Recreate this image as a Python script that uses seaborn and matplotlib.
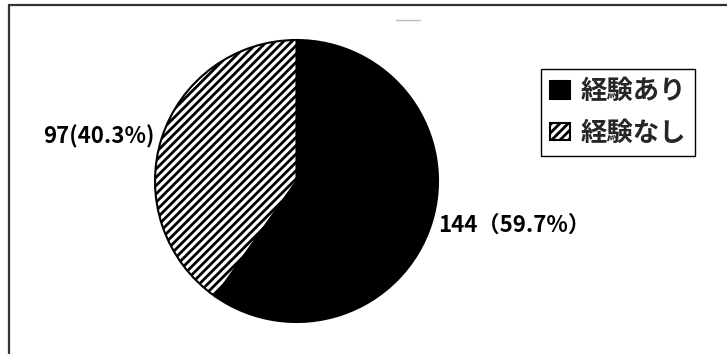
import seaborn as sns
import matplotlib.pyplot as plt
from matplotlib.lines import Line2D

# data
categories = ['経験あり', '経験なし']
counts = [144, 97]
pct_labels = ['144（59.7%）', '97(40.3%)']
face_colors = ['black', 'white']
hatches = ['', '////']

sns.set_theme(style='white')
plt.rcParams['font.family'] = ['Noto Sans CJK JP', 'DejaVu Sans']
plt.rcParams['hatch.linewidth'] = 2.0
plt.rcParams['hatch.color'] = 'black'

fig = plt.figure(figsize=(7.27, 3.54), dpi=100)
W, H = 727, 354

# pie area in pixels: x 155..438, y 40..322 (from top)
ax = fig.add_axes([155 / W, (H - 322) / H, 283 / W, 282 / H])
wedges, texts = ax.pie(
    counts,
    labels=pct_labels,
    colors=face_colors,
    startangle=90,
    counterclock=False,
    labeldistance=1.05,
    wedgeprops=dict(edgecolor='black', linewidth=1.5),
    textprops=dict(fontsize=16, color='black', fontweight='bold'),
)
for w, h in zip(wedges, hatches):
    w.set_hatch(h)
ax.set_xlim(-1, 1)
ax.set_ylim(-1, 1)
ax.set_aspect('auto')

leg = fig.legend(
    wedges, categories,
    loc='upper left',
    bbox_to_anchor=(541 / W, 1 - 69 / H),
    borderaxespad=0,
    prop=dict(size=19, weight='bold'),
    frameon=True,
    fancybox=False,
    framealpha=1,
    edgecolor='black',
    handlelength=0.75,
    handleheight=0.65,
    handletextpad=0.4,
    labelspacing=0.55,
    borderpad=0.35,
)
leg.get_frame().set_linewidth(1.0)

# outer frame of the scanned figure (left and top edges)
fig.add_artist(Line2D([8.5 / W, 8.5 / W], [0, 1 - 5 / H], transform=fig.transFigure,
                      color='#333333', linewidth=1.6))
fig.add_artist(Line2D([8.5 / W, 1], [1 - 5 / H, 1 - 5 / H], transform=fig.transFigure,
                      color='#333333', linewidth=1.6))
# faint mark above the pie
fig.add_artist(Line2D([396 / W, 420 / W], [1 - 20 / H, 1 - 20 / H], transform=fig.transFigure,
                      color='#bbbbbb', linewidth=1))

fig.savefig('out.png', dpi=100, facecolor='white')
